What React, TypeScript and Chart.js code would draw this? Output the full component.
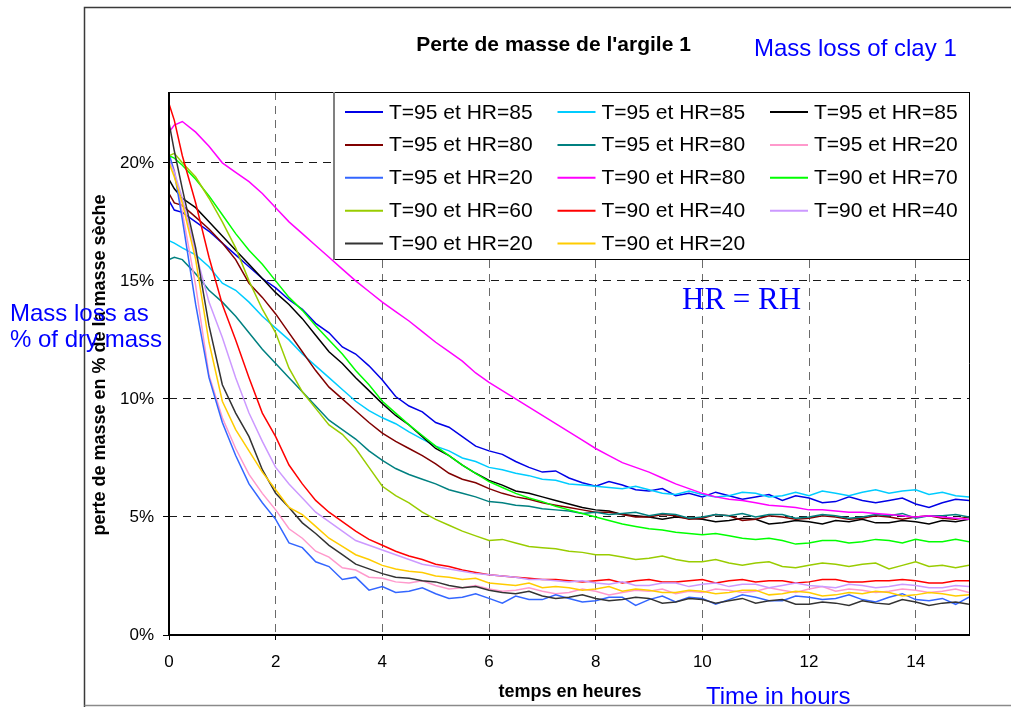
import React, { useEffect, useRef } from "react";
import { Chart, registerables } from "chart.js";

Chart.register(...registerables);

const SANS = "'Liberation Sans', Arial, Helvetica, sans-serif";
const SERIF = "'Liberation Serif', 'Times New Roman', serif";

// time in hours (shared by every series)
const TIMES = [0, 0.1, 0.25, 0.5, 0.75, 1, 1.25, 1.5, 1.75, 2, 2.25, 2.5, 2.75, 3, 3.25, 3.5, 3.75,
  4, 4.25, 4.5, 4.75, 5, 5.25, 5.5, 5.75, 6, 6.25, 6.5, 6.75, 7, 7.25, 7.5, 7.75, 8, 8.25, 8.5, 8.75,
  9, 9.25, 9.5, 9.75, 10, 10.25, 10.5, 10.75, 11, 11.25, 11.5, 11.75, 12, 12.25, 12.5, 12.75,
  13, 13.25, 13.5, 13.75, 14, 14.25, 14.5, 14.75, 15];

// mass loss in % of dry mass
const T95_HR85_BLUE = [18.4, 18.0, 17.9, 17.5, 17.1, 16.6, 16.1, 15.6, 15.1, 14.7, 14.2, 13.8, 13.2, 12.8, 12.2, 11.9, 11.4,
  10.8, 10.1, 9.7, 9.45, 9.0, 8.8, 8.4, 8.0, 7.8, 7.65, 7.35, 7.1, 6.9, 6.95, 6.65, 6.45, 6.3, 6.5, 6.35, 6.15,
  6.1, 6.2, 5.9, 6.0, 5.85, 6.05, 5.9, 5.75, 5.85, 5.95, 5.7, 5.9, 5.8, 5.6, 5.65, 5.85,
  5.7, 5.6, 5.7, 5.8, 5.55, 5.4, 5.6, 5.75, 5.7];
const T95_HR85_CYAN = [16.7, 16.6, 16.4, 16.1, 15.6, 14.9, 14.6, 14.1, 13.5, 13.0, 12.5, 11.9, 11.4, 10.9, 10.4, 9.9, 9.5,
  9.2, 8.95, 8.6, 8.3, 8.0, 7.8, 7.5, 7.35, 7.1, 7.0, 6.85, 6.75, 6.6, 6.55, 6.4, 6.35, 6.3, 6.25, 6.2, 6.3,
  6.15, 6.0, 5.95, 6.1, 5.95, 5.85, 5.9, 6.05, 6.0, 5.85, 5.9, 6.05, 5.9, 6.1, 6.0, 5.9,
  6.05, 6.15, 6.0, 6.1, 6.15, 5.95, 6.05, 5.9, 5.85];
const T95_HR85_BLACK = [19.3, 18.9, 18.5, 18.1, 17.5, 16.9, 16.3, 15.7, 15.1, 14.5, 14.0, 13.4, 12.7, 12.0, 11.5, 10.9, 10.35,
  9.8, 9.3, 8.9, 8.4, 7.9, 7.6, 7.2, 6.85, 6.55, 6.35, 6.1, 6.0, 5.85, 5.7, 5.55, 5.4, 5.3, 5.25, 5.1, 5.05,
  5.0, 4.9, 5.0, 4.95, 4.9, 4.8, 4.85, 4.95, 4.9, 4.7, 4.75, 4.85, 4.8, 4.7, 4.85, 4.8,
  4.9, 4.75, 4.75, 4.85, 4.8, 4.7, 4.85, 4.8, 4.9];
const T95_HR80_DARKRED = [18.7, 18.3, 18.2, 17.7, 17.2, 16.6, 15.9, 14.9, 14.3, 13.6, 12.8, 12.0, 11.2, 10.5, 10.0, 9.5, 9.0,
  8.55, 8.2, 7.9, 7.6, 7.25, 6.85, 6.6, 6.45, 6.2, 6.0, 5.85, 5.75, 5.6, 5.5, 5.4, 5.3, 5.2, 5.2, 5.1, 5.0,
  5.0, 5.1, 5.05, 4.9, 4.95, 5.1, 5.05, 4.85, 4.9, 5.05, 5.0, 4.9, 4.95, 5.05, 5.0, 4.9,
  4.95, 5.05, 5.0, 4.9, 5.0, 5.05, 4.95, 4.9, 5.0];
const T95_HR80_TEAL = [15.9, 16.0, 15.9, 15.3, 14.6, 14.1, 13.5, 12.8, 12.1, 11.5, 10.9, 10.3, 9.7, 9.1, 8.7, 8.3, 7.8,
  7.4, 7.05, 6.8, 6.6, 6.4, 6.15, 6.0, 5.85, 5.65, 5.6, 5.5, 5.45, 5.35, 5.3, 5.25, 5.15, 5.2, 5.1, 5.15, 5.2,
  5.05, 5.15, 5.1, 4.95, 5.0, 5.1, 5.05, 5.15, 5.0, 5.1, 5.1, 4.95, 5.0, 5.1, 5.05, 4.95,
  5.0, 5.1, 5.05, 5.15, 4.95, 5.05, 5.05, 5.1, 5.0];
const T95_HR20_PINK = [20.3, 19.7, 17.9, 14.8, 11.0, 9.2, 7.9, 6.8, 6.0, 5.3, 4.5, 4.1, 3.55, 3.3, 2.85, 2.75, 2.45,
  2.4, 2.25, 2.2, 2.3, 2.1, 1.95, 2.0, 2.1, 1.95, 1.85, 1.9, 2.0, 1.85, 1.75, 1.8, 1.95, 1.85, 1.7, 1.8, 1.9,
  1.85, 1.95, 1.75, 1.85, 1.8, 1.95, 1.9, 1.8, 1.85, 2.0, 1.9, 1.8, 1.95, 2.05, 1.85, 1.95,
  1.9, 1.8, 1.85, 1.95, 1.9, 1.8, 1.85, 1.95, 1.8];
const T95_HR20_CORNFLOWER = [20.4, 19.6, 17.6, 14.0, 10.9, 9.0, 7.6, 6.4, 5.6, 4.9, 3.9, 3.7, 3.1, 2.9, 2.35, 2.45, 1.9,
  2.05, 1.8, 1.85, 2.0, 1.75, 1.55, 1.6, 1.75, 1.55, 1.35, 1.65, 1.5, 1.5, 1.7, 1.55, 1.4, 1.45, 1.6, 1.6, 1.25,
  1.5, 1.65, 1.4, 1.6, 1.55, 1.3, 1.5, 1.7, 1.6, 1.45, 1.45, 1.65, 1.6, 1.5, 1.55, 1.7,
  1.5, 1.4, 1.6, 1.75, 1.5, 1.45, 1.55, 1.3, 1.6];
const T90_HR80_MAGENTA = [21.3, 21.6, 21.75, 21.3, 20.7, 20.0, 19.6, 19.2, 18.7, 18.1, 17.5, 17.0, 16.5, 16.0, 15.5, 15.0, 14.55,
  14.1, 13.7, 13.3, 12.85, 12.4, 12.0, 11.6, 11.1, 10.7, 10.35, 10.0, 9.65, 9.3, 8.95, 8.6, 8.25, 7.9, 7.6, 7.3, 7.1,
  6.9, 6.65, 6.4, 6.2, 6.0, 5.85, 5.75, 5.7, 5.6, 5.5, 5.45, 5.4, 5.3, 5.3, 5.25, 5.2,
  5.2, 5.15, 5.1, 5.05, 5.0, 5.05, 5.0, 4.95, 4.9];
const T90_HR70_GREEN = [20.3, 20.2, 19.9, 19.3, 18.6, 17.8, 17.0, 16.3, 15.7, 15.0, 14.3, 13.75, 13.1, 12.5, 11.9, 11.2, 10.6,
  9.9, 9.4, 8.9, 8.45, 8.0, 7.6, 7.2, 6.85, 6.5, 6.25, 6.0, 5.8, 5.65, 5.45, 5.3, 5.15, 5.0, 4.85, 4.7, 4.6,
  4.5, 4.45, 4.35, 4.3, 4.25, 4.3, 4.2, 4.1, 4.05, 4.1, 4.0, 3.85, 3.9, 4.0, 4.0, 3.9,
  3.95, 4.05, 4.0, 3.9, 4.05, 3.95, 3.95, 4.05, 3.95];
const T90_HR60_YELLOWGREEN = [20.3, 20.4, 20.0, 19.4, 18.5, 17.5, 16.4, 15.0, 13.8, 12.8, 11.3, 10.3, 9.6, 8.9, 8.5, 7.9, 7.1,
  6.3, 5.9, 5.6, 5.2, 4.9, 4.65, 4.4, 4.2, 4.0, 4.05, 3.9, 3.75, 3.7, 3.65, 3.55, 3.5, 3.4, 3.4, 3.3, 3.2,
  3.25, 3.35, 3.2, 3.1, 3.1, 3.2, 3.05, 2.95, 3.05, 3.1, 2.9, 2.85, 2.95, 3.05, 3.0, 2.9,
  3.0, 3.05, 2.8, 2.95, 3.1, 2.9, 2.95, 2.85, 2.95];
const T90_HR40_RED = [22.5, 21.8, 20.3, 18.3, 16.0, 14.0, 12.5, 10.9, 9.4, 8.4, 7.2, 6.4, 5.7, 5.2, 4.8, 4.4, 4.05,
  3.8, 3.55, 3.35, 3.2, 3.0, 2.9, 2.75, 2.65, 2.55, 2.5, 2.45, 2.4, 2.35, 2.35, 2.3, 2.25, 2.3, 2.35, 2.2, 2.3,
  2.35, 2.25, 2.25, 2.3, 2.35, 2.2, 2.3, 2.35, 2.25, 2.3, 2.3, 2.2, 2.25, 2.35, 2.35, 2.25,
  2.25, 2.3, 2.3, 2.35, 2.3, 2.2, 2.2, 2.3, 2.3];
const T90_HR40_LAVENDER = [20.1, 19.6, 18.5, 16.2, 14.1, 12.6, 10.9, 9.4, 8.2, 7.1, 6.4, 5.8, 5.2, 4.8, 4.4, 4.0, 3.8,
  3.6, 3.4, 3.2, 3.0, 2.9, 2.8, 2.7, 2.6, 2.55, 2.5, 2.45, 2.35, 2.35, 2.3, 2.25, 2.3, 2.2, 2.15, 2.25, 2.1,
  2.1, 2.2, 2.2, 2.05, 2.15, 2.2, 2.05, 2.15, 2.15, 2.0, 2.1, 2.2, 2.1, 2.05, 2.0, 2.15,
  2.1, 2.0, 2.05, 2.15, 2.1, 2.0, 2.0, 2.1, 2.05];
const T90_HR20_DARKGREY = [21.7, 20.5, 18.9, 16.4, 13.1, 10.6, 9.4, 8.4, 7.0, 6.0, 5.4, 4.75, 4.3, 3.8, 3.4, 3.0, 2.8,
  2.6, 2.45, 2.4, 2.3, 2.25, 2.1, 2.0, 2.05, 1.9, 1.8, 1.75, 1.85, 1.65, 1.55, 1.6, 1.7, 1.55, 1.45, 1.5, 1.6,
  1.55, 1.35, 1.4, 1.55, 1.5, 1.35, 1.45, 1.55, 1.35, 1.45, 1.5, 1.3, 1.3, 1.4, 1.35, 1.25,
  1.45, 1.35, 1.3, 1.5, 1.4, 1.25, 1.35, 1.4, 1.3];
const T90_HR20_GOLD = [20.0, 19.4, 18.3, 15.9, 12.4, 9.9, 8.7, 7.8, 6.9, 6.15, 5.4, 5.1, 4.6, 4.1, 3.75, 3.4, 3.2,
  2.95, 2.8, 2.7, 2.65, 2.5, 2.45, 2.35, 2.4, 2.2, 2.15, 2.1, 2.2, 2.0, 2.05, 2.0, 1.9, 1.95, 2.05, 1.85, 1.95,
  1.9, 1.8, 1.8, 1.9, 1.85, 1.75, 1.8, 1.9, 1.9, 1.7, 1.75, 1.85, 1.8, 1.65, 1.7, 1.8,
  1.75, 1.85, 1.8, 1.65, 1.7, 1.8, 1.75, 1.65, 1.7];

const SERIES = [
  T95_HR85_BLUE, T95_HR85_CYAN, T95_HR85_BLACK,
  T95_HR80_DARKRED, T95_HR80_TEAL, T95_HR20_PINK,
  T95_HR20_CORNFLOWER, T90_HR80_MAGENTA, T90_HR70_GREEN,
  T90_HR60_YELLOWGREEN, T90_HR40_RED, T90_HR40_LAVENDER,
  T90_HR20_DARKGREY, T90_HR20_GOLD,
];

const LABELS = [
  "T=95 et HR=85", "T=95 et HR=85", "T=95 et HR=85",
  "T=95 et HR=80", "T=95 et HR=80", "T=95 et HR=20",
  "T=95 et HR=20", "T=90 et HR=80", "T=90 et HR=70",
  "T=90 et HR=60", "T=90 et HR=40", "T=90 et HR=40",
  "T=90 et HR=20", "T=90 et HR=20",
];

const COLORS = [
  "#0000e6", "#00ccff", "#000000",
  "#800000", "#008080", "#ff99cc",
  "#3366ff", "#ff00ff", "#00ff00",
  "#99cc00", "#ff0000", "#cc99ff",
  "#333333", "#ffcc00",
];

const X_MIN = 0;
const X_MAX = 15;
const X_STEP = 2;
const Y_MIN = 0;
const Y_MAX = 23;
const Y_STEP = 5;

const TITLE = "Perte de masse de l'argile 1";
const X_TITLE = "temps en heures";
const Y_TITLE = "perte de masse en % de la masse sèche";

const overlayPlugin = {
  id: "overlay",
  afterDraw(chart: any) {
    const { ctx, chartArea: ca } = chart;
    ctx.save();
    ctx.setLineDash([]);

    // outer frame
    ctx.strokeStyle = "#3a3a3a";
    ctx.lineWidth = 1.5;
    ctx.beginPath();
    ctx.moveTo(84.5, 707);
    ctx.lineTo(84.5, 7.5);
    ctx.lineTo(1011, 7.5);
    ctx.stroke();
    ctx.strokeStyle = "#8a8a8a";
    ctx.beginPath();
    ctx.moveTo(84.5, 705.5);
    ctx.lineTo(1011, 705.5);
    ctx.stroke();

    // plot frame (top and right)
    ctx.strokeStyle = "#000";
    ctx.lineWidth = 1;
    ctx.beginPath();
    ctx.moveTo(ca.left, ca.top + 0.5);
    ctx.lineTo(ca.right + 0.5, ca.top + 0.5);
    ctx.lineTo(ca.right + 0.5, ca.bottom);
    ctx.stroke();
    // axes
    ctx.lineWidth = 2;
    ctx.beginPath();
    ctx.moveTo(ca.left, ca.top);
    ctx.lineTo(ca.left, ca.bottom);
    ctx.lineTo(ca.right + 1, ca.bottom);
    ctx.stroke();

    // legend box
    const lx0 = 333, ly0 = ca.top, lx1 = 970, ly1 = 260;
    ctx.fillStyle = "#fff";
    ctx.fillRect(lx0, ly0, lx1 - lx0, ly1 - ly0);
    ctx.strokeStyle = "#000";
    ctx.lineWidth = 1;
    ctx.strokeRect(lx0 + 0.5, ly0 + 0.5, lx1 - lx0 - 1, ly1 - ly0 - 1);
    ctx.strokeStyle = "#808080";
    ctx.lineWidth = 2;
    ctx.beginPath();
    ctx.moveTo(lx0 + 1, ly0);
    ctx.lineTo(lx0 + 1, ly1);
    ctx.stroke();

    ctx.font = `21px ${SANS}`;
    ctx.textAlign = "left";
    ctx.textBaseline = "alphabetic";
    LABELS.forEach((lab, i) => {
      const col = i % 3;
      const row = Math.floor(i / 3);
      const sx = 345 + col * 212.5;
      const sy = 112 + row * 32.9;
      ctx.strokeStyle = COLORS[i];
      ctx.lineWidth = 2;
      ctx.beginPath();
      ctx.moveTo(sx, sy);
      ctx.lineTo(sx + 38, sy);
      ctx.stroke();
      ctx.fillStyle = "#000";
      ctx.fillText(lab, sx + 44, sy + 6.5);
    });

    // titles
    ctx.fillStyle = "#000";
    ctx.textAlign = "center";
    ctx.font = `bold 21px ${SANS}`;
    ctx.fillText(TITLE, 553.5, 51);
    ctx.font = `bold 18px ${SANS}`;
    ctx.fillText(X_TITLE, 570, 697);
    ctx.save();
    ctx.translate(105, 365);
    ctx.rotate(-Math.PI / 2);
    ctx.fillText(Y_TITLE, 0, 0);
    ctx.restore();

    // blue annotations
    ctx.fillStyle = "#0000ff";
    ctx.textAlign = "left";
    ctx.font = `24px ${SANS}`;
    ctx.fillText("Mass loss of clay 1", 754, 56);
    ctx.fillText("Mass loss as", 10, 321);
    ctx.fillText("% of dry mass", 10, 347);
    ctx.fillText("Time in hours", 706, 704);
    ctx.font = `31px ${SERIF}`;
    ctx.fillText("HR = RH", 682, 309);

    ctx.restore();
  },
};

export default function App() {
  const canvasRef = useRef<HTMLCanvasElement | null>(null);

  useEffect(() => {
    const canvas = canvasRef.current;
    if (!canvas) return;
    const datasets = SERIES.map((vals, i) => ({
      label: LABELS[i],
      data: TIMES.map((t, j) => ({ x: t, y: vals[j] })),
      borderColor: COLORS[i],
      backgroundColor: COLORS[i],
      borderWidth: 1.5,
      pointRadius: 0,
      fill: false,
      tension: 0,
      order: SERIES.length - i,
    }));

    const chart = new Chart(canvas, {
      type: "line",
      data: { datasets },
      options: {
        animation: false,
        responsive: false,
        devicePixelRatio: 1,
        events: [],
        layout: { padding: { left: 0, top: 92, right: 42, bottom: 0 } },
        plugins: {
          legend: { display: false },
          title: { display: false },
          tooltip: { enabled: false },
        },
        scales: {
          x: {
            type: "linear",
            min: X_MIN,
            max: X_MAX,
            afterFit: (s: any) => { s.height = 72; },
            ticks: {
              stepSize: X_STEP,
              includeBounds: false,
              color: "#000",
              font: { family: SANS, size: 17 },
              padding: 12,
              maxRotation: 0,
            },
            grid: {
              color: (c: any) => (c.tick && c.tick.value === 0 ? "rgba(0,0,0,0)" : "#6a6a6a"),
              lineWidth: 1,
              tickLength: 5,
              tickColor: "#000",
              tickWidth: 1,
              tickBorderDash: [],
            },
            border: { display: false, dash: [8, 6] },
          },
          y: {
            type: "linear",
            min: Y_MIN,
            max: Y_MAX,
            afterFit: (s: any) => { s.width = 169; },
            ticks: {
              stepSize: Y_STEP,
              includeBounds: false,
              color: "#000",
              font: { family: SANS, size: 17 },
              padding: 9,
              callback: (v: any) => `${v}%`,
            },
            grid: {
              color: (c: any) => (c.tick && c.tick.value === 0 ? "rgba(0,0,0,0)" : "#1a1a1a"),
              lineWidth: 1,
              tickLength: 6,
              tickColor: "#000",
              tickWidth: 1,
              tickBorderDash: [],
            },
            border: { display: false, dash: [8, 6] },
          },
        },
      },
      plugins: [overlayPlugin],
    });
    return () => chart.destroy();
  }, []);

  return (
    <div style={{ position: "absolute", left: 0, top: 0, width: 1011, height: 707, background: "#fff" }}>
      <canvas ref={canvasRef} width={1011} height={707} style={{ width: 1011, height: 707, display: "block" }} />
    </div>
  );
}
